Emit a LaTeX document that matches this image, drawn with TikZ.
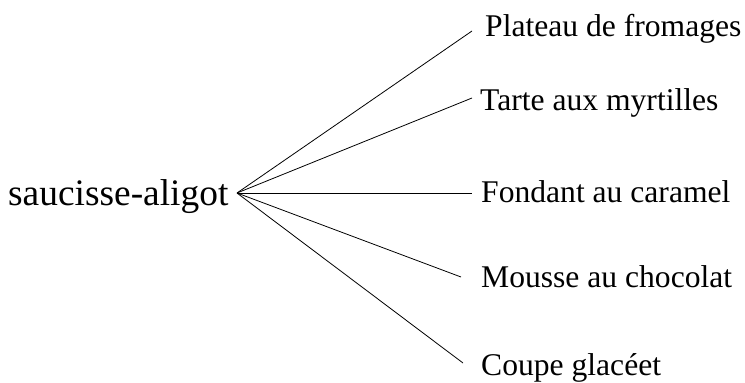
\documentclass[tikz,border=0pt]{standalone}
\usepackage{fontspec}
\setmainfont{Liberation Serif}
\begin{document}
\begin{tikzpicture}[x=1pt,y=-1pt,
  rootlabel/.style={inner sep=0pt,anchor=base west,font=\fontsize{37.4}{40}\selectfont},
  leaflabel/.style={inner sep=0pt,anchor=base west,font=\fontsize{31.6}{34}\selectfont},
  branch/.style={draw=black,line width=0.8pt}]
\useasboundingbox (0,0) rectangle (745,383);
\node[rootlabel] (root) at (8,205) {saucisse-aligot};
\coordinate (r) at (237,193);
\node[leaflabel] (l1) at (485,36) {Plateau de fromages};
\node[leaflabel] (l2) at (480,110) {Tarte aux myrtilles};
\node[leaflabel] (l3) at (481,202) {Fondant au caramel};
\node[leaflabel] (l4) at (481,287) {Mousse au chocolat};
\node[leaflabel] (l5) at (481,375) {Coupe glacéet};
\coordinate (e1) at (472,31);
\coordinate (e2) at (472,98);
\coordinate (e3) at (472,193);
\coordinate (e4) at (461,277);
\coordinate (e5) at (463,363);
\foreach \i in {1,...,5} \draw[branch] (r) -- (e\i);
\end{tikzpicture}
\end{document}
